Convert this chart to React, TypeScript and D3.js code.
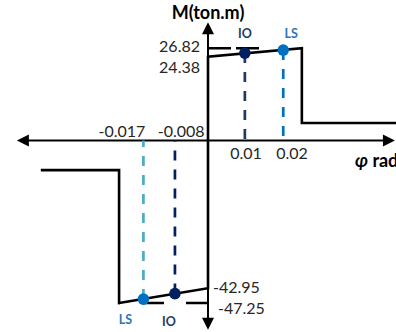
import React from 'react';
import * as d3 from 'd3';

// moment-rotation backbone (phi in rad, M in ton.m)
const curvePhi = [-0.044, -0.0234, -0.0234, 0, 0, 0.0247, 0.0247, 0.0495];
const curveM = [-8.6, -8.6, -47.25, -42.95, 24.38, 26.82, 5.1, 5.1];

// performance points
const pointNames = ['IO', 'LS', 'IO', 'LS'];
const pointPhi = [0.0097, 0.0198, -0.0087, -0.017];
const pointM = [25.4, 26.3, -44.5, -46.1];
const pointColors = ['#002060', '#0070c0', '#002060', '#0070c0'];
const dashColors = ['#1f3864', '#0070c0', '#002060', '#4bacc6'];
const labelColors = ['#1f3864', '#2e75b6', '#1f3864', '#2e75b6'];

const xTickValues = [-0.017, -0.008, 0.01, 0.02];
const xTickLabels = ['-0.017', '-0.008', '0.01', '0.02'];
const yTickValues = [26.82, 24.38, -42.95, -47.25];
const yTickLabels = ['26.82', '24.38', '-42.95', '-47.25'];

const W = 396;
const H = 332;
const FONT = 'Lato, "Open Sans", sans-serif';

export default function App() {
  const x = d3.scaleLinear().domain([-0.06, 0.06]).range([-20, 436]);
  const y = d3.scaleLinear().domain([-55, 40]).range([329.7, 2.9]);

  const x0 = x(0);
  const y0 = y(0);
  const xMin = x(-0.0503);
  const xMax = x(0.0492);
  const yTop = y(34.4);
  const yBot = y(-55);

  const line = d3.line<number>()
    .x((_, i) => x(curvePhi[i]))
    .y((_, i) => y(curveM[i]));

  // tick label placement tweaks
  const xLabelPos = [
    { anchor: 'end', dx: 2, dy: -4 },
    { anchor: 'end', dx: 27, dy: -4 },
    { anchor: 'middle', dx: 0, dy: 18 },
    { anchor: 'middle', dx: 8, dy: 18 },
  ];
  const yLabelPos = [
    { anchor: 'end', dx: -8, dy: -1 },
    { anchor: 'end', dx: -8, dy: 11 },
    { anchor: 'start', dx: 5, dy: 0 },
    { anchor: 'start', dx: 10, dy: 6 },
  ];
  const ptLabelPos = [
    { dx: 0, dy: -15 },
    { dx: 8, dy: -12 },
    { dx: -6, dy: 32 },
    { dx: -18, dy: 25 },
  ];

  const arrow = (tx: number, ty: number, dir: string) => {
    const s = 6;
    const l = 12;
    let pts: number[][] = [];
    if (dir === 'up') pts = [[tx, ty], [tx - s, ty + l], [tx + s, ty + l]];
    if (dir === 'down') pts = [[tx, ty], [tx - s, ty - l], [tx + s, ty - l]];
    if (dir === 'left') pts = [[tx, ty], [tx + l, ty - s], [tx + l, ty + s]];
    if (dir === 'right') pts = [[tx, ty], [tx - l, ty - s], [tx - l, ty + s]];
    return <polygon points={pts.map(p => p.join(',')).join(' ')} fill="#000" />;
  };

  return (
    <svg width={W} height={H} style={{ position: 'absolute', left: 0, top: 0, background: '#fff' }}>
      {/* axes */}
      <line x1={xMin + 8} x2={xMax - 8} y1={y0} y2={y0} stroke="#000" strokeWidth={2} />
      <line x1={x0} x2={x0} y1={yTop + 8} y2={yBot - 8} stroke="#000" strokeWidth={2} />
      {arrow(xMin, y0, 'left')}
      {arrow(xMax, y0, 'right')}
      {arrow(x0, yTop, 'up')}
      {arrow(x0, yBot, 'down')}

      {/* dashed guide lines to yield/ultimate moments */}
      <line x1={x0} x2={x(0.0145)} y1={y(26.82)} y2={y(26.82)} stroke="#000" strokeWidth={2.5} strokeDasharray="23,5" />
      <line x1={x0} x2={x(-0.0234)} y1={y(-47.25)} y2={y(-47.25)} stroke="#000" strokeWidth={2.5} strokeDasharray="22,22" />

      {/* dashed verticals */}
      {pointPhi.map((p, i) => (
        <line key={'d' + i} x1={x(p)} x2={x(p)} y1={y(pointM[i])} y2={y0}
          stroke={dashColors[i]} strokeWidth={2.7} strokeDasharray="10,9" />
      ))}

      {/* backbone curve */}
      <path d={line(curvePhi) || ''} fill="none" stroke="#000" strokeWidth={2.6} strokeLinejoin="miter" />

      {/* points */}
      {pointPhi.map((p, i) => (
        <circle key={'p' + i} cx={x(p)} cy={y(pointM[i])} r={5.8} fill={pointColors[i]} />
      ))}
      {pointPhi.map((p, i) => (
        <text key={'pl' + i} x={x(p) + ptLabelPos[i].dx} y={y(pointM[i]) + ptLabelPos[i].dy}
          textAnchor="middle" fontFamily={FONT} fontWeight="bold" fontSize={12.5} fill={labelColors[i]}>
          {pointNames[i]}
        </text>
      ))}

      {/* tick labels */}
      {xTickValues.map((v, i) => (
        <text key={'xt' + i} x={x(v) + xLabelPos[i].dx} y={y0 + xLabelPos[i].dy}
          textAnchor={xLabelPos[i].anchor as any} fontFamily={FONT} fontSize={16} fill="#262626">
          {xTickLabels[i]}
        </text>
      ))}
      {yTickValues.map((v, i) => (
        <text key={'yt' + i} x={x0 + yLabelPos[i].dx} y={y(v) + 5 + yLabelPos[i].dy}
          textAnchor={yLabelPos[i].anchor as any} fontFamily={FONT} fontSize={16} fill="#262626">
          {yTickLabels[i]}
        </text>
      ))}

      {/* axis titles */}
      <text x={x0} y={19} textAnchor="middle" fontFamily={FONT} fontWeight="bold" fontSize={18} fill="#000">
        M(ton.m)
      </text>
      <text x={355} y={y0 + 26} fontFamily={FONT} fontWeight="bold" fontSize={18} fill="#000">
        <tspan fontStyle="italic">φ</tspan> rad
      </text>
    </svg>
  );
}
